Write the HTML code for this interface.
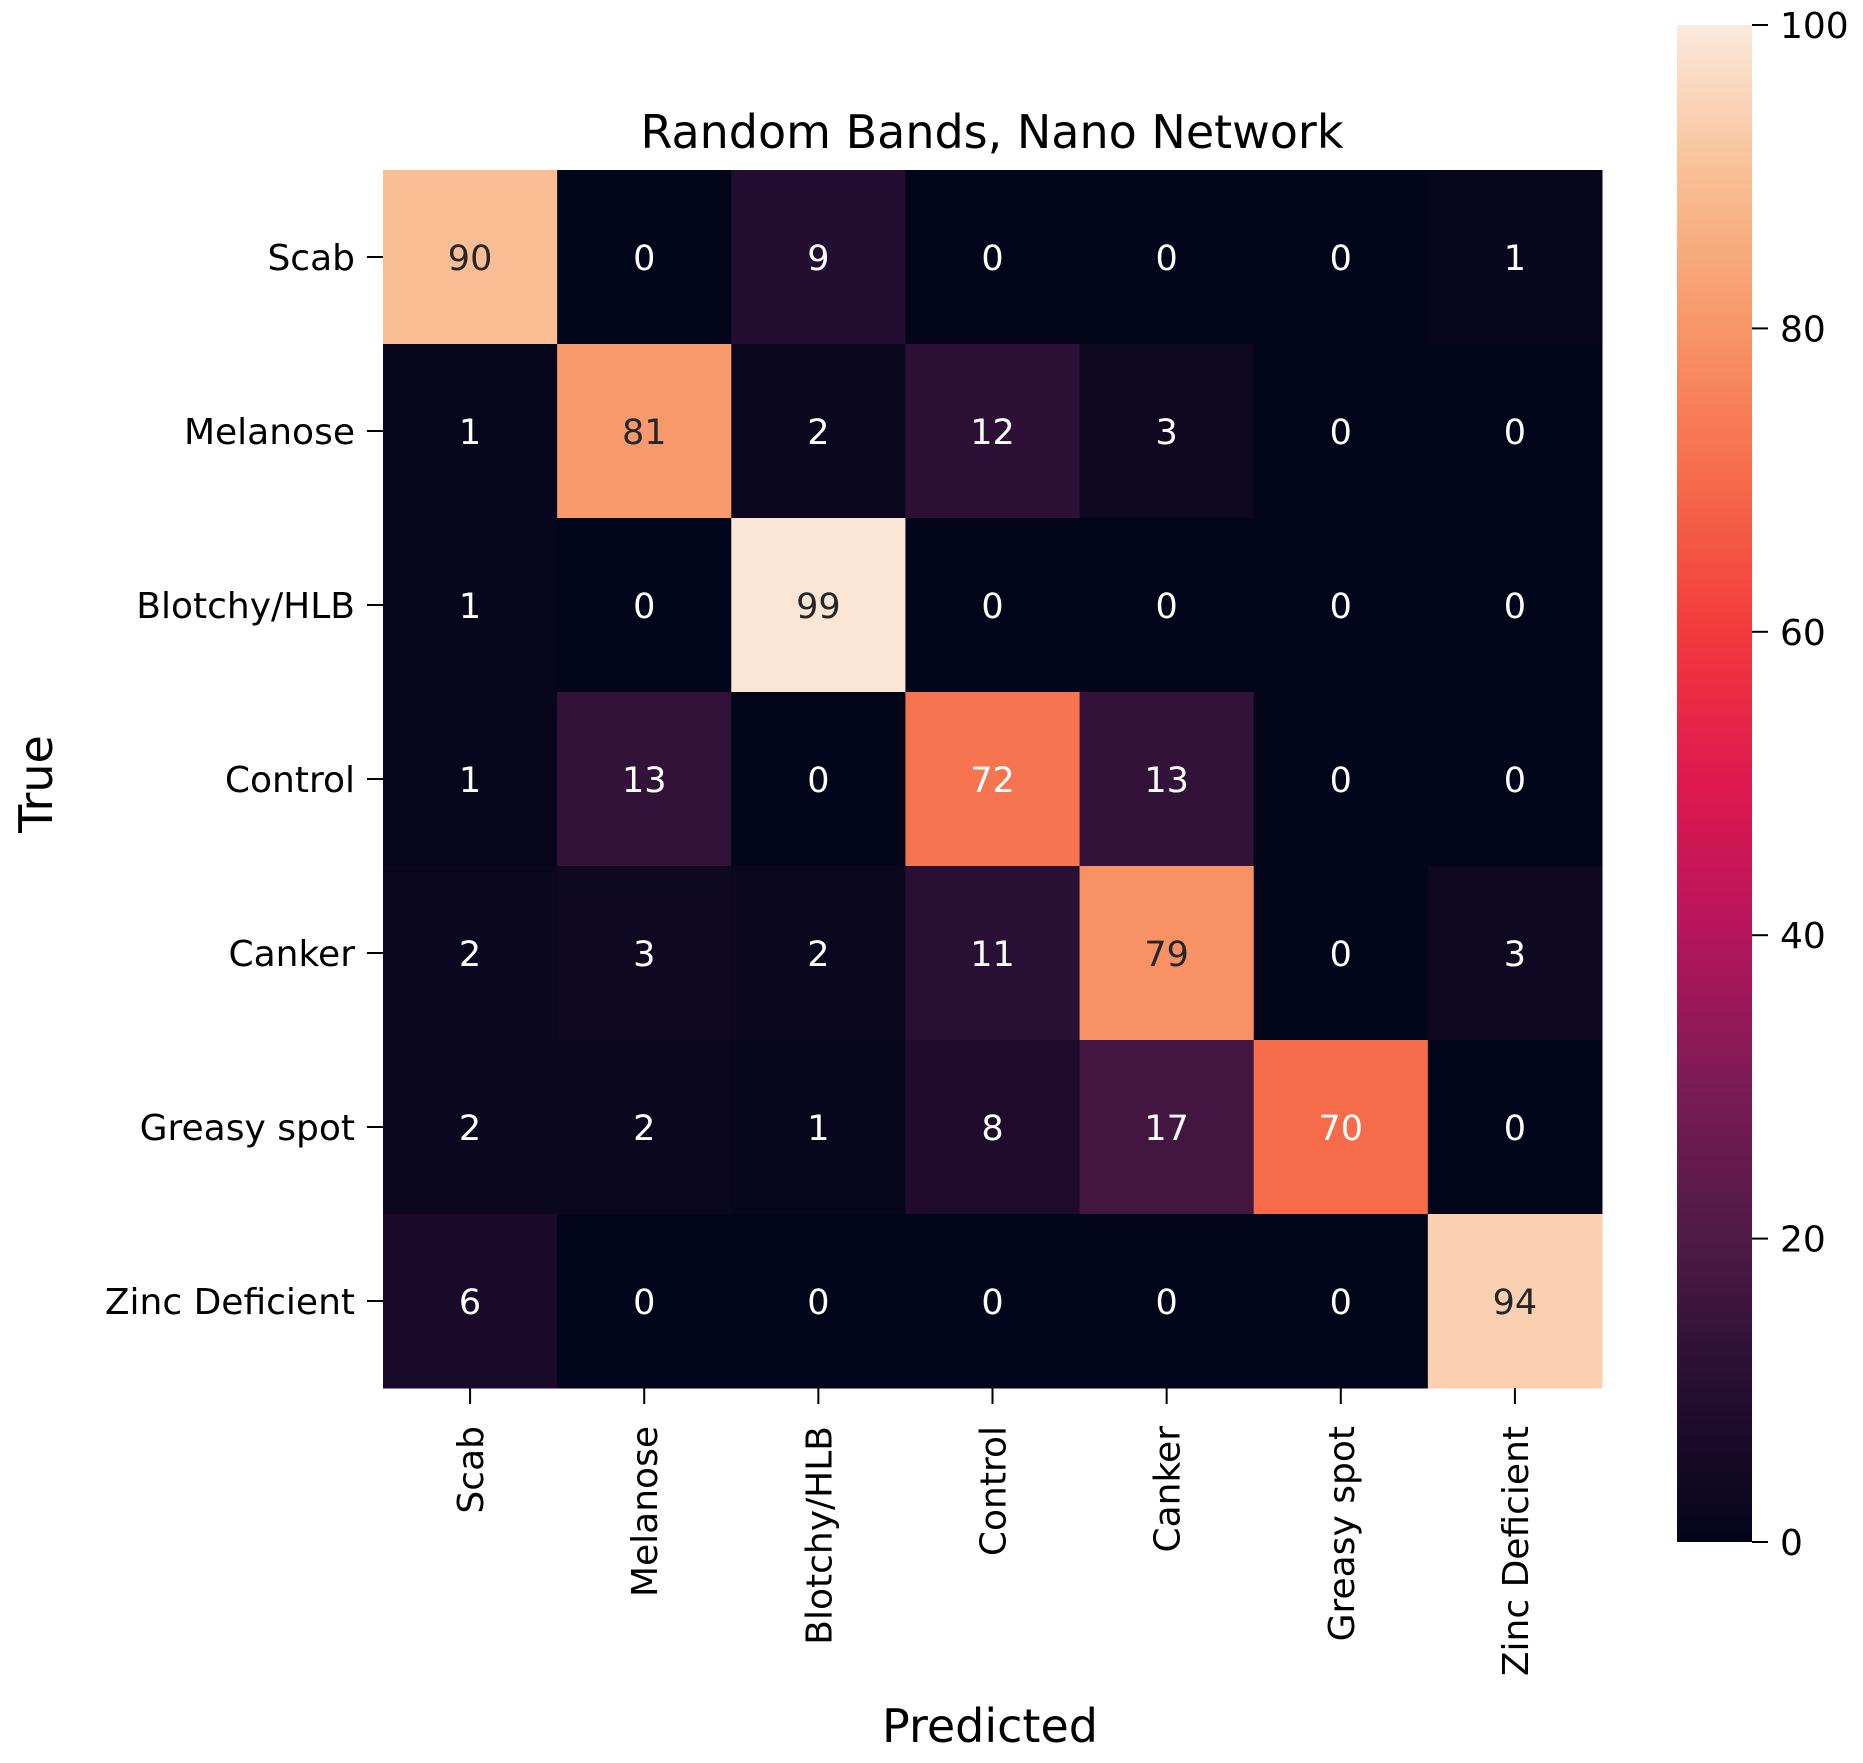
<!DOCTYPE html>
<html><head><meta charset="utf-8"><style>
html,body{margin:0;padding:0;background:#fff;}
svg{display:block;font-family:"DejaVu Sans","Liberation Sans",sans-serif;}
</style></head><body>
<svg id="chart" width="1863" height="1763" viewBox="0 0 1863 1763">
<defs>
<linearGradient id="cbgrad" x1="0" y1="1" x2="0" y2="0"></linearGradient>
</defs>
<text x="992" y="148" font-size="46" text-anchor="middle" fill="#000">Random Bands, Nano Network</text>
<g id="cells"></g>
<g id="ylabels"></g>
<g id="xlabels"></g>
<g id="colorbar"></g>
<text transform="translate(52,784) rotate(-90)" font-size="46" text-anchor="middle" fill="#000">True</text>
<text x="990" y="1742" font-size="46" text-anchor="middle" fill="#000">Predicted</text>
</svg>
<script>
const categories = ["Scab","Melanose","Blotchy/HLB","Control","Canker","Greasy spot","Zinc Deficient"];
const row0 = [90,0,9,0,0,0,1];
const row1 = [1,81,2,12,3,0,0];
const row2 = [1,0,99,0,0,0,0];
const row3 = [1,13,0,72,13,0,0];
const row4 = [2,3,2,11,79,0,3];
const row5 = [2,2,1,8,17,70,0];
const row6 = [6,0,0,0,0,0,94];
const matrix = [row0,row1,row2,row3,row4,row5,row6];
const cbTicks = [0,20,40,60,80,100];

const NS = "http://www.w3.org/2000/svg";
const X0 = 383, X1 = 1602, Y0 = 170, Y1 = 1388;
const n = categories.length;
const cw = (X1 - X0) / n, ch = (Y1 - Y0) / n;
const vmin = 0, vmax = 100;
const stops = [[0,[3,5,26]],[0.1,[38,14,50]],[0.2,[79,26,72]],[0.3,[122,27,86]],[0.4,[181,21,92]],[0.5,[222,24,80]],[0.6,[242,58,60]],[0.7,[246,107,74]],[0.8,[248,150,104]],[0.9,[249,190,148]],[1,[251,234,220]]];
function color(v){
  let t = Math.max(0, Math.min(1, (v - vmin) / (vmax - vmin)));
  for (let i = 1; i < stops.length; i++) {
    if (t <= stops[i][0]) {
      const a = stops[i-1], b = stops[i];
      const f = (t - a[0]) / (b[0] - a[0]);
      const c = a[1].map((x, k) => Math.round(x + (b[1][k] - x) * f));
      return "rgb(" + c.join(",") + ")";
    }
  }
  return "rgb(251,234,220)";
}
function xPos(j){ return X0 + cw * (j + 0.5); }
function yPos(i){ return Y0 + ch * (i + 0.5); }
const cbX0 = 1677, cbX1 = 1752, cbTop = 25, cbBot = 1542;
function cbY(v){ return cbBot - (v - vmin) / (vmax - vmin) * (cbBot - cbTop); }

const cells = document.getElementById("cells");
matrix.forEach((row, i) => {
  row.forEach((v, j) => {
    const r = document.createElementNS(NS, "rect");
    r.setAttribute("x", X0 + cw * j);
    r.setAttribute("y", Y0 + ch * i);
    r.setAttribute("width", cw + 0.5);
    r.setAttribute("height", ch + 0.5);
    r.setAttribute("fill", color(v));
    
    
    cells.appendChild(r);
    const t = document.createElementNS(NS, "text");
    t.setAttribute("x", xPos(j));
    t.setAttribute("y", yPos(i) + 13);
    t.setAttribute("font-size", "35");
    t.setAttribute("text-anchor", "middle");
    t.setAttribute("fill", v >= 75 ? "#262626" : "#ffffff");
    t.textContent = v;
    
    
    cells.appendChild(t);
  });
});

const yl = document.getElementById("ylabels");
categories.forEach((c, i) => {
  const l = document.createElementNS(NS, "line");
  l.setAttribute("x1", X0 - 16); l.setAttribute("x2", X0);
  l.setAttribute("y1", yPos(i)); l.setAttribute("y2", yPos(i));
  l.setAttribute("stroke", "#000"); l.setAttribute("stroke-width", "2");
  
  
  yl.appendChild(l);
  const t = document.createElementNS(NS, "text");
  t.setAttribute("x", X0 - 28);
  t.setAttribute("y", yPos(i) + 13);
  t.setAttribute("font-size", "36");
  t.setAttribute("text-anchor", "end");
  t.textContent = c;
  
  
  yl.appendChild(t);
});

const xl = document.getElementById("xlabels");
categories.forEach((c, j) => {
  const l = document.createElementNS(NS, "line");
  l.setAttribute("x1", xPos(j)); l.setAttribute("x2", xPos(j));
  l.setAttribute("y1", Y1); l.setAttribute("y2", Y1 + 16);
  l.setAttribute("stroke", "#000"); l.setAttribute("stroke-width", "2");
  
  
  xl.appendChild(l);
  const t = document.createElementNS(NS, "text");
  t.setAttribute("transform", "translate(" + (xPos(j) + 13) + "," + (Y1 + 38) + ") rotate(-90)");
  t.setAttribute("font-size", "36");
  t.setAttribute("text-anchor", "end");
  t.textContent = c;
  
  
  xl.appendChild(t);
});

const grad = document.getElementById("cbgrad");
for (let k = 0; k <= 50; k++) {
  const s = document.createElementNS(NS, "stop");
  s.setAttribute("offset", (k / 50));
  s.setAttribute("stop-color", color(vmin + (vmax - vmin) * k / 50));
  grad.appendChild(s);
}
const cb = document.getElementById("colorbar");
const cbr = document.createElementNS(NS, "rect");
cbr.setAttribute("x", cbX0); cbr.setAttribute("y", cbTop);
cbr.setAttribute("width", cbX1 - cbX0); cbr.setAttribute("height", cbBot - cbTop);
cbr.setAttribute("fill", "url(#cbgrad)");


cb.appendChild(cbr);
cbTicks.forEach(v => {
  const l = document.createElementNS(NS, "line");
  l.setAttribute("x1", cbX1); l.setAttribute("x2", cbX1 + 16);
  l.setAttribute("y1", cbY(v)); l.setAttribute("y2", cbY(v));
  l.setAttribute("stroke", "#000"); l.setAttribute("stroke-width", "2");
  
  
  cb.appendChild(l);
  const t = document.createElementNS(NS, "text");
  t.setAttribute("x", cbX1 + 28);
  t.setAttribute("y", cbY(v) + 13);
  t.setAttribute("font-size", "36");
  t.textContent = v;
  
  
  cb.appendChild(t);
});
</script>
</body></html>
